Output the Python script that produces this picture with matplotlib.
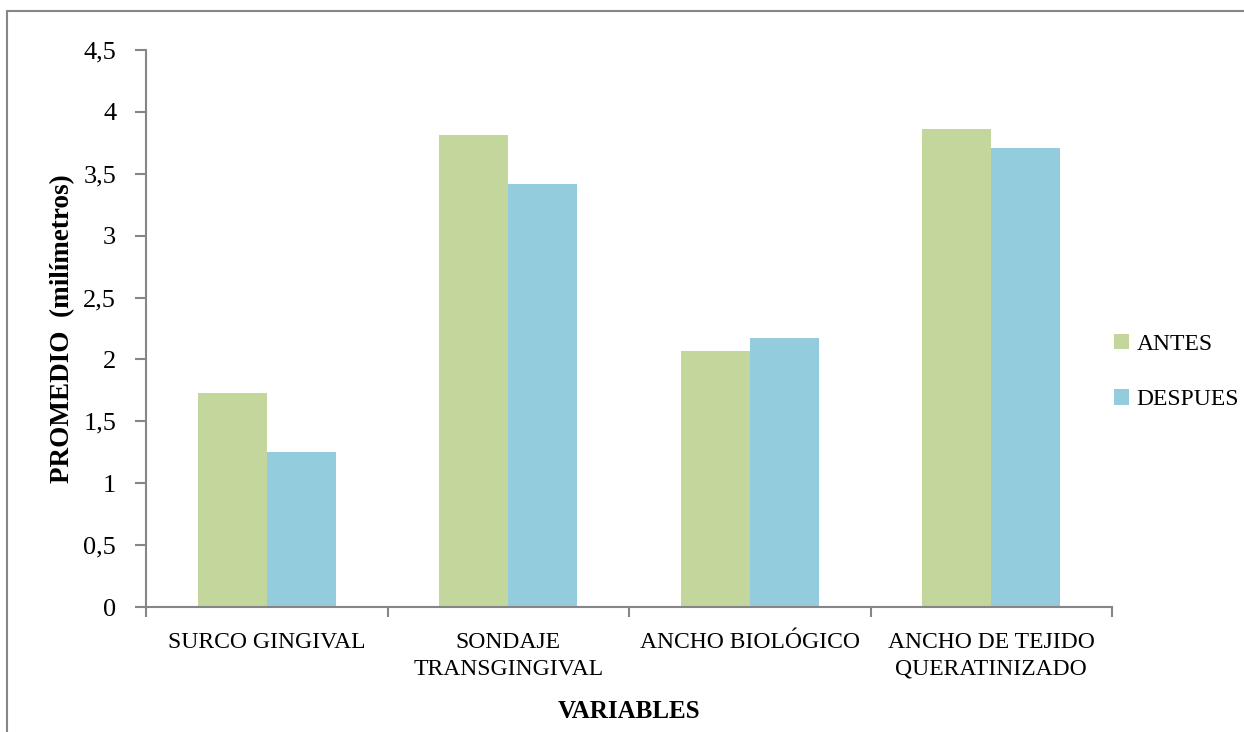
import matplotlib
matplotlib.use("Agg")
import matplotlib.pyplot as plt
from matplotlib.patches import Rectangle
from matplotlib.ticker import FuncFormatter
import numpy as np

# data
categories = ["SURCO GINGIVAL", "SONDAJE\nTRANSGINGIVAL", "ANCHO BIOLÓGICO",
              "ANCHO DE TEJIDO\nQUERATINIZADO"]
antes = [1.73, 3.81, 2.07, 3.86]
despues = [1.25, 3.42, 2.17, 3.71]
series_names = ["ANTES", "DESPUES"]
y_ticks = [0, 0.5, 1, 1.5, 2, 2.5, 3, 3.5, 4, 4.5]

plt.rcParams["font.family"] = ["Liberation Serif", "DejaVu Serif"]
plt.rcParams["font.size"] = 17

green = "#C3D69B"
blue = "#93CDDD"
axis_gray = "#868686"

fig = plt.figure(figsize=(12.44, 7.32), dpi=100)
ax = fig.add_axes([146 / 1244, 1 - 607 / 732, (1112 - 146) / 1244, (607 - 50) / 732])

x = np.arange(len(categories))
w = 0.285
ax.bar(x - w / 2, antes, w, color=green, label=series_names[0])
ax.bar(x + w / 2, despues, w, color=blue, label=series_names[1])

ax.set_xlim(-0.5, len(categories) - 0.5)
ax.set_ylim(0, 4.5)
ax.set_yticks(y_ticks)
ax.yaxis.set_major_formatter(FuncFormatter(lambda v, p: ("%g" % v).replace(".", ",")))

# category labels at centres, tick marks at the boundaries
ax.set_xticks(x)
ax.set_xticklabels(categories, linespacing=1.35)
ax.set_xticks(np.arange(len(categories) + 1) - 0.5, minor=True)
ax.tick_params(axis="x", which="major", length=0, pad=18)
ax.tick_params(axis="x", which="minor", length=7, width=1.5, color=axis_gray, direction="out")
ax.tick_params(axis="y", length=8, width=1.5, color=axis_gray, direction="out",
               pad=13.5, labelsize=19)

for side in ["top", "right"]:
    ax.spines[side].set_visible(False)
for side in ["left", "bottom"]:
    ax.spines[side].set_color(axis_gray)
    ax.spines[side].set_linewidth(1.5)

ax.set_ylabel("PROMEDIO  (milímetros)", fontweight="bold", fontsize=19.5)
ax.yaxis.set_label_coords(-0.073, 0.5)
ax.set_xlabel("VARIABLES", fontweight="bold", fontsize=18, va="center")
ax.xaxis.set_label_coords(0.5, -0.1885)

fig.legend(loc="center left", bbox_to_anchor=(1114 / 1244, 1 - 372 / 732),
           frameon=False, borderpad=0, borderaxespad=0,
           handlelength=0.65, handleheight=0.65, handletextpad=0.3,
           labelspacing=1.45)

# outer chart frame (cut off at right and bottom)
fig.patches.append(Rectangle((7 / 1244, -0.1), 1.2, 1.1 - 11 / 732,
                             transform=fig.transFigure, fill=False,
                             edgecolor=axis_gray, linewidth=1.5))

fig.savefig("out.png", dpi=100)
